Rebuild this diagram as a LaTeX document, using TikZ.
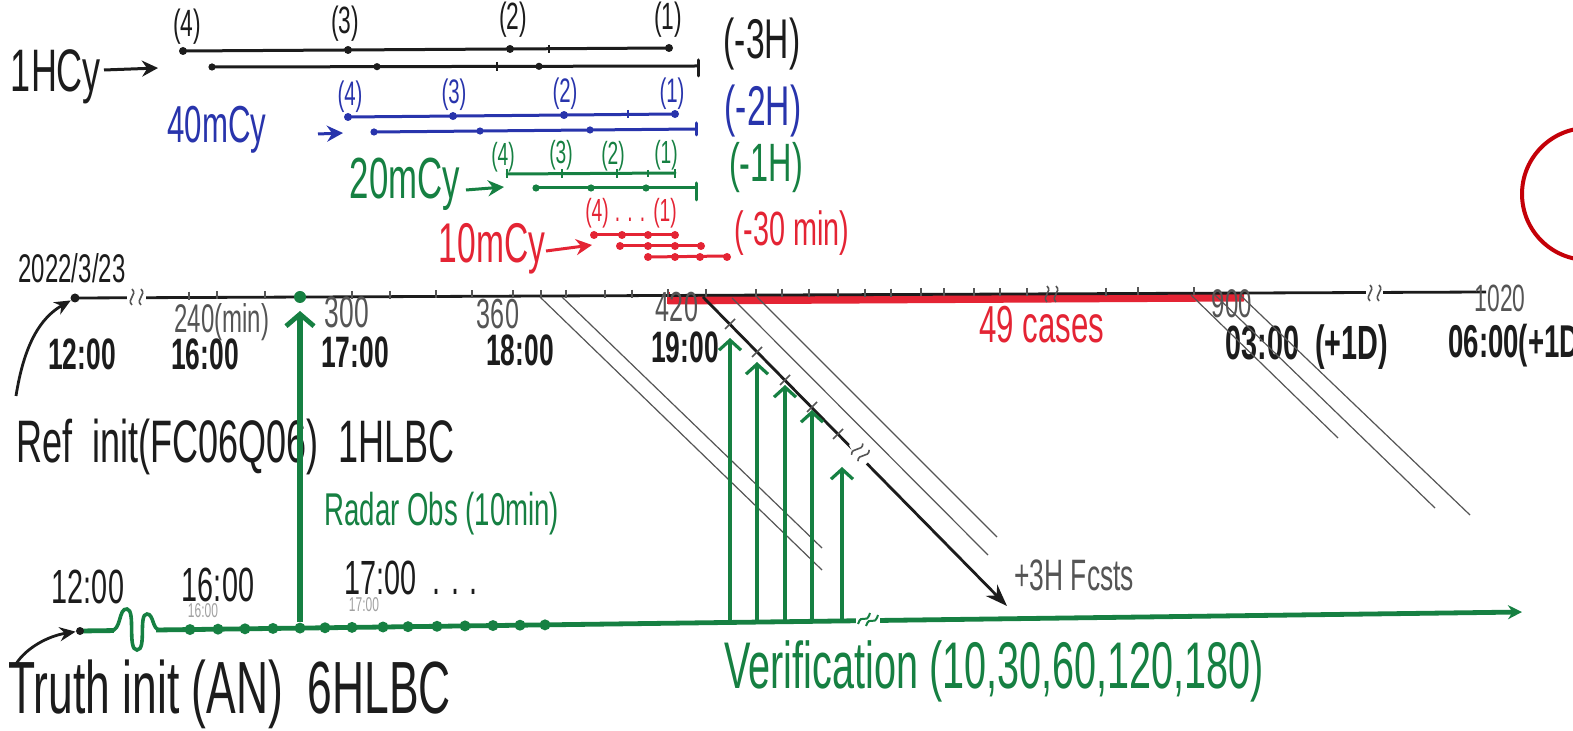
\documentclass[tikz,border=0pt]{standalone}
\usepackage{fontspec}
\setmainfont{Liberation Sans}
\newfontfamily\hand[FakeStretch=0.6]{Liberation Sans}
\usetikzlibrary{arrows.meta,calc}
\newcommand{\fsz}[1]{\fontsize{#1}{#1}\selectfont}
\definecolor{ink}{RGB}{28,28,28}
\definecolor{blu}{RGB}{40,52,172}
\definecolor{grn}{RGB}{22,128,66}
\definecolor{rd}{RGB}{228,36,52}
\definecolor{drd}{RGB}{196,0,8}
\definecolor{pencil}{RGB}{85,85,85}
\tikzset{
  txt/.style={inner sep=0pt, anchor=base, font=\hand\fsz{#1}},
  txtw/.style={inner sep=0pt, anchor=base west, font=\hand\fsz{#1}},
  bld/.style={inner sep=0pt, anchor=base, font=\hand\bfseries\fsz{#1}},
  seg/.style={line width=1.5pt, line cap=round},
  thinl/.style={pencil, line width=0.6pt},
  dotn/.style={circle, fill, inner sep=0pt, minimum size=#1},
  tk/.style={line width=0.9pt},
  harrow/.style={line width=1.5pt, -{Stealth[length=8pt,width=8pt]}},
  vbarb/.style={grn, line width=1.6pt, line cap=round, -{Straight Barb[length=5pt,width=11pt,line width=1.6pt]}},
  brk/.pic={
    \draw[pencil, line width=0.8pt] (-4,8) .. controls (-10,2) and (2,-2) .. (-4,-8);
    \draw[pencil, line width=0.8pt] (5,8) .. controls (-1,2) and (11,-2) .. (5,-8);
  },
}
\begin{document}
\begin{tikzpicture}[x=0.5pt,y=-0.5pt]
\fill[white] (0,0) rectangle (1573,731);
\useasboundingbox (0,0) rectangle (1573,731);

% ---------------- top: cycling windows ----------------
% 1H cycling (black)
\node[txt=30, ink] (l1h) at (56,92) {1HCy};
\coordinate (k1a) at (183,51); \coordinate (k1b) at (669,48);
\coordinate (k2a) at (212,67); \coordinate (k2b) at (698,66);
\draw[ink,harrow] (104,70) -- (158,68);
\draw[ink,seg] (k1a) -- (k1b);
\draw[ink,seg] (k2a) -- (k2b);
\foreach \x in {183,348,510,669} \fill[ink] (\x,{51-(\x-183)*3/486}) circle[radius=2pt];
\foreach \x in {549} \draw[ink,tk] (\x,45) -- (\x,53);
\foreach \x in {212,377,539} \fill[ink] (\x,{67-(\x-212)/486}) circle[radius=1.8pt];
\draw[ink,tk] (497,62) -- (497,71);
\draw[ink,seg] (698,60) -- (698,76);
\node[txt=19, ink] (k4) at (187,37) {(4)};
\node[txt=19, ink] (k3) at (345,34) {(3)};
\node[txt=19, ink] (k2) at (513,30) {(2)};
\node[txt=19, ink] (k1) at (668,30) {(1)};
\node[txt=28, ink] (k3h) at (762,59) {(-3H)};

% 40 min cycling (blue)
\node[txt=26, blu] (l40) at (217,143) {40mCy};
\draw[blu,harrow] (318,134) -- (343,133);
\coordinate (b1a) at (348,117); \coordinate (b1b) at (677,114);
\coordinate (b2a) at (374,132); \coordinate (b2b) at (696,129);
\draw[blu,seg] (b1a) -- (b1b);
\draw[blu,seg] (b2a) -- (b2b);
\foreach \x in {348,453,564,675} \fill[blu] (\x,{117-(\x-348)*3/329}) circle[radius=2pt];
\draw[blu,tk] (628,110) -- (628,118);
\foreach \x in {374,480,590} \fill[blu] (\x,{132-(\x-374)*3/322}) circle[radius=1.8pt];
\draw[blu,seg] (696,123) -- (696,135);
\node[txt=17, blu] (b4) at (350,106) {(4)};
\node[txt=17, blu] (b3) at (454,104) {(3)};
\node[txt=17, blu] (b2) at (565,103) {(2)};
\node[txt=17, blu] (b1) at (672,103) {(1)};
\node[txt=28, blu] (b2h) at (763,126) {(-2H)};

% 20 min cycling (green)
\node[txt=29, grn] (l20) at (405,199) {20mCy};
\draw[grn,harrow] (466,190) -- (504,187);
\coordinate (g1a) at (507,174); \coordinate (g1b) at (675,173);
\coordinate (g2a) at (536,188); \coordinate (g2b) at (696,188);
\draw[grn,seg] (g1a) -- (g1b);
\draw[grn,seg] (g2a) -- (g2b);
\foreach \x in {507,562,617,675} \draw[grn,tk] (\x,169) -- (\x,178);
\draw[grn,tk] (648,170) -- (648,177);
\foreach \x in {536,591,646} \fill[grn] (\x,188) circle[radius=1.8pt];
\draw[grn,seg] (696,183) -- (696,200);
\node[txt=16, grn] (g4) at (503,166) {(4)};
\node[txt=16, grn] (g3) at (561,164) {(3)};
\node[txt=16, grn] (g2) at (613,165) {(2)};
\node[txt=16, grn] (g1) at (666,164) {(1)};
\node[txt=27, grn] (g1h) at (766,182) {(-1H)};

% 10 min cycling (red)
\node[txt=28, rd] (l10) at (492,263) {10mCy};
\draw[rd,harrow] (546,251) -- (592,245);
\coordinate (r1a) at (594,235); \coordinate (r1b) at (675,235);
\coordinate (r2a) at (620,246); \coordinate (r2b) at (701,246);
\coordinate (r3a) at (648,257); \coordinate (r3b) at (727,256);
\draw[rd,seg] (r1a) -- (r1b);
\draw[rd,seg] (r2a) -- (r2b);
\draw[rd,seg] (r3a) -- (r3b);
\foreach \x in {594,622,648,675} \fill[rd] (\x,235) circle[radius=2pt];
\foreach \x in {620,648,675,701} \fill[rd] (\x,246) circle[radius=2pt];
\foreach \x in {648,675,700,727} \fill[rd] (\x,257) circle[radius=2pt];
\node[txt=16, rd] (r4) at (597,222) {(4)};
\node[txt=16, rd] (rdots) at (630,222) {. . .};
\node[txt=16, rd] (r1) at (665,222) {(1)};
\node[txt=24, rd] (r30) at (792,246) {(-30 min)};

% ---------------- reference timeline ----------------
\node[txt=20, ink] (date) at (72,283) {2022/3/23};
\coordinate (tls) at (75,298); \coordinate (tle) at (1486,292);
\draw[rd, line width=4.5pt] (668,300) -- (1244,297);
\draw[rd, line width=1.5pt] (668,292) -- (668,304);
\draw[ink, line width=1.4pt] (tls) -- (tle);
\foreach \x in {189,217,265,352,390,436,472,513,541,566,605,632,668,706,756,782,809,838,865,891,921,944,974,1000,1027,1106,1138,1194}
  \draw[pencil, line width=0.7pt] (\x,{298-(\x-75)*0.00426-6}) -- (\x,{298-(\x-75)*0.00426+2});
\fill[white] (127,290) rectangle (146,306);
\pic at (136,297) {brk};
\pic at (1051,294) {brk};
\fill[white] (1366,287) rectangle (1383,302);
\pic at (1374,293) {brk};
\node[dotn=4.5pt, ink] (t0) at (75,298) {};
\node[dotn=6pt, grn] (obsdot) at (300,297) {};

% minute labels
\node[txt=20, pencil] (m240) at (222,333) {240(min)};
\node[txt=22, pencil] (m300) at (347,328) {300};
\node[txt=21, pencil] (m360) at (498,329) {360};
\node[txt=21, pencil] (m420) at (677,322) {420};
\node[txt=20, pencil] (m900) at (1232,318) {900};
\node[txt=19, pencil] (m1020) at (1500,312) {1020};
% clock labels
\node[bld=22, ink] (c12) at (82,370) {12:00};
\node[bld=22, ink] (c16) at (205,370) {16:00};
\node[bld=22, ink] (c17) at (355,368) {17:00};
\node[bld=22, ink] (c18) at (520,366) {18:00};
\node[bld=22, ink] (c19) at (685,363) {19:00};
\node[bld=24, ink] (c03) at (1307,360) {03:00 \,(+1D)};
\node[bld=23, ink, anchor=base west] (c06) at (1448,358) {06:00(+1D)};
\node[txt=26, rd] (cases) at (1042,343) {49 cases};

% red circle at right edge
\draw[drd, line width=2pt] (1588,194) circle[radius=33pt];

% ref init label + arrow
\node[txtw=30, ink] (refinit) at (16,463) {Ref\ \ init(FC06Q06)\ \ 1HLBC};
\draw[ink, line width=1.4pt, -{Stealth[length=8pt,width=7pt]}] (16,396) .. controls (24,345) and (40,318) .. (t0);

% ---------------- forecast diagonals ----------------
\draw[thinl] (540,297) -- (822,570);
\draw[thinl] (562,297) -- (822,548);
\draw[thinl] (732,298) -- (988,555);
\draw[thinl] (757,297) -- (997,537);
\draw[thinl] (1191,295) -- (1338,438);
\draw[thinl] (1215,295) -- (1435,508);
\draw[thinl] (1240,295) -- (1470,515);
\coordinate (fa) at (703,297); \coordinate (fb) at (1007,606);
\draw[ink, line width=1.4pt, -{Stealth[length=11pt,width=8pt]}] (fa) -- (fb);
\foreach \x/\y in {730/324,757/352,785/380,812/407,838/434}
  \draw[pencil, line width=0.8pt] (\x-5,\y+5) -- (\x+5,\y-5);
\fill[white] (849,445) -- (860,434) -- (872,458) -- (861,469) -- cycle;
\pic[rotate=-45] at (860,452) {brk};
\node[txtw=22, pencil] (fcst) at (1014,590) {+3H Fcsts};

% ---------------- truth timeline ----------------
\coordinate (trs) at (80,631); \coordinate (tre) at (1522,612);
\draw[grn, line width=2.4pt, -{Stealth[length=7pt,width=7pt]}] (trs) -- (tre);
\fill[white] (114,620) rectangle (156,642);
\draw[grn, line width=1.8pt] (110,631) .. controls (122,631) and (118,608) .. (127,609)
  .. controls (136,610) and (127,650) .. (137,650) .. controls (147,650) and (138,614) .. (147,614)
  .. controls (154,614) and (152,630) .. (160,630);
\fill[white] (856,612) rectangle (880,626);
\draw[grn, line width=1pt] (858,624) .. controls (862,612) and (866,626) .. (870,613);
\draw[grn, line width=1pt] (866,626) .. controls (870,614) and (874,628) .. (878,615);
\node[dotn=4pt, ink] (tr0) at (80,631) {};
\foreach \x [count=\i] in {190,218,245,273,300,325,352,383,408,437,465,493,520,545}
  \node[dotn=5.5pt, grn] (od\i) at (\x,{631-(\x-80)*0.0132}) {};
\node[txt=24, ink] (tc12) at (88,603) {12:00};
\node[txt=24, ink] (tc16) at (218,601) {16:00};
\node[txtw=24, ink] (tc17) at (344,594) {17:00 \,. . .};
\node[txt=10, pencil!55] (fc16) at (203,617) {16:00};
\node[txt=10, pencil!55] (fc17) at (364,611) {17:00};
\node[inner sep=0pt, anchor=base west, font=\hand\fsz{37}, ink] (truthinit) at (8,713) {Truth init (AN) \ 6HLBC};
\draw[ink, line width=1.4pt, -{Stealth[length=8pt,width=7pt]}] (16,664) .. controls (26,648) and (48,636) .. (tr0);

% radar observations arrow
\draw[grn, line width=2.6pt, -{Straight Barb[length=6pt,width=14pt,line width=2.4pt]}] (od5) -- (300,311);
\node[txtw=23, grn] (radar) at (324,525) {Radar Obs (10min)};

% verification arrows
\foreach \x/\y in {730/338,757/362,785/385,812/410,842/467}
  \draw[vbarb] (\x,{631-(\x-80)*0.0132}) -- (\x,\y);
\node[txtw=33, grn] (verif) at (724,688) {Verification (10,30,60,120,180)};
\end{tikzpicture}
\end{document}
